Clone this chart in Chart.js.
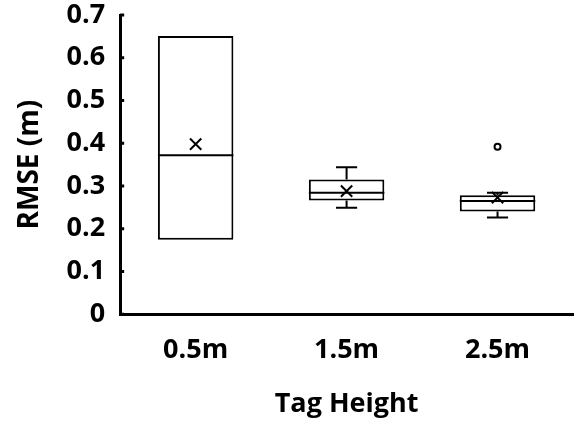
<!DOCTYPE html>
<html>
<head>
<meta charset="utf-8">
<script src="https://cdn.jsdelivr.net/npm/chart.js@4.4.1/dist/chart.umd.min.js"></script>
<style>
  html, body { margin: 0; padding: 0; background: #fff; }
  #wrap { width: 583px; height: 421px; }
</style>
</head>
<body>
<div id="wrap"><canvas id="c" width="583" height="421"></canvas></div>
<script>
'use strict';

const categories = ['0.5m', '1.5m', '2.5m'];
const q1 = [0.174, 0.266, 0.240];
const q3 = [0.651, 0.315, 0.278];
const medians = [0.372, 0.284, 0.265];
const whiskerLow = [0.174, 0.249, 0.226];
const whiskerHigh = [0.651, 0.344, 0.284];
const means = [0.398, 0.288, 0.273];
const outliers = [{ x: '2.5m', y: 0.392 }];
const yTicks = [0, 0.1, 0.2, 0.3, 0.4, 0.5, 0.6, 0.7];

const FONT = '"Open Sans", Lato, sans-serif';

// median lines, whiskers and inner tick marks, drawn through the chart scales
const boxExtras = {
    id: 'boxExtras',
    afterDatasetDraw(chart, args) {
        if (args.index !== 0) return;
        const { ctx, scales: { x, y } } = chart;
        const meta = chart.getDatasetMeta(0);
        ctx.save();
        ctx.strokeStyle = '#000';
        ctx.lineWidth = 2;
        meta.data.forEach((bar, i) => {
            const half = bar.width / 2;
            const cap = bar.width * 0.14;
            const cx = bar.x;
            ctx.beginPath();
            ctx.moveTo(cx - half, y.getPixelForValue(medians[i]));
            ctx.lineTo(cx + half, y.getPixelForValue(medians[i]));
            if (whiskerHigh[i] > q3[i]) {
                ctx.moveTo(cx, y.getPixelForValue(q3[i]));
                ctx.lineTo(cx, y.getPixelForValue(whiskerHigh[i]));
                ctx.moveTo(cx - cap, y.getPixelForValue(whiskerHigh[i]));
                ctx.lineTo(cx + cap, y.getPixelForValue(whiskerHigh[i]));
            }
            if (whiskerLow[i] < q1[i]) {
                ctx.moveTo(cx, y.getPixelForValue(q1[i]));
                ctx.lineTo(cx, y.getPixelForValue(whiskerLow[i]));
                ctx.moveTo(cx - cap, y.getPixelForValue(whiskerLow[i]));
                ctx.lineTo(cx + cap, y.getPixelForValue(whiskerLow[i]));
            }
            ctx.stroke();
        });
        ctx.lineWidth = 3;
        ctx.beginPath();
        yTicks.forEach(v => {
            const py = y.getPixelForValue(v);
            ctx.moveTo(x.left, py);
            ctx.lineTo(x.left + 4, py);
        });
        ctx.stroke();
        ctx.restore();
    },
};

new Chart(document.getElementById('c'), {
    type: 'bar',
    data: {
        labels: categories,
        datasets: [
            {
                type: 'bar',
                data: q1.map((v, i) => [v, q3[i]]),
                backgroundColor: '#fff',
                borderColor: '#000',
                borderWidth: 2,
                borderSkipped: false,
                barPercentage: 0.5,
                categoryPercentage: 1,
                order: 2,
            },
            {
                type: 'line',
                data: means,
                showLine: false,
                pointStyle: 'crossRot',
                pointRadius: 8,
                borderColor: '#000',
                borderWidth: 2,
                order: 1,
            },
            {
                type: 'line',
                data: outliers,
                showLine: false,
                pointStyle: 'circle',
                pointRadius: 3,
                backgroundColor: '#fff',
                borderColor: '#000',
                borderWidth: 2,
                order: 1,
            },
        ],
    },
    options: {
        responsive: false,
        animation: false,
        layout: { padding: { top: 0, right: 8, left: 10, bottom: 0 } },
        plugins: { legend: { display: false }, tooltip: { enabled: false } },
        scales: {
            x: {
                grid: { display: false, drawTicks: false },
                border: { color: '#000', width: 3 },
                ticks: { color: '#000', padding: 20, font: { family: FONT, size: 27, weight: 'bold' } },
                title: {
                    display: true, text: 'Tag Height', color: '#000',
                    padding: { top: 2, bottom: 0 },
                    font: { family: FONT, size: 27, weight: 'bold' },
                },
            },
            y: {
                min: 0, max: 0.7,
                afterBuildTicks(axis) { axis.ticks = yTicks.map(v => ({ value: v })); },
                afterFit(axis) { axis.paddingTop = 15; },
                grid: { display: false, drawTicks: false },
                border: { color: '#000', width: 3 },
                ticks: {
                    color: '#000', padding: 15,
                    font: { family: FONT, size: 27, weight: 'bold' },
                    callback: v => (v === 0 ? '0' : v.toFixed(1)),
                },
                title: {
                    display: true, text: 'RMSE (m)', color: '#000',
                    padding: { top: 3, bottom: 5 },
                    font: { family: FONT, size: 28, weight: 'bold' },
                },
            },
        },
    },
    plugins: [boxExtras],
});
</script>
</body>
</html>
